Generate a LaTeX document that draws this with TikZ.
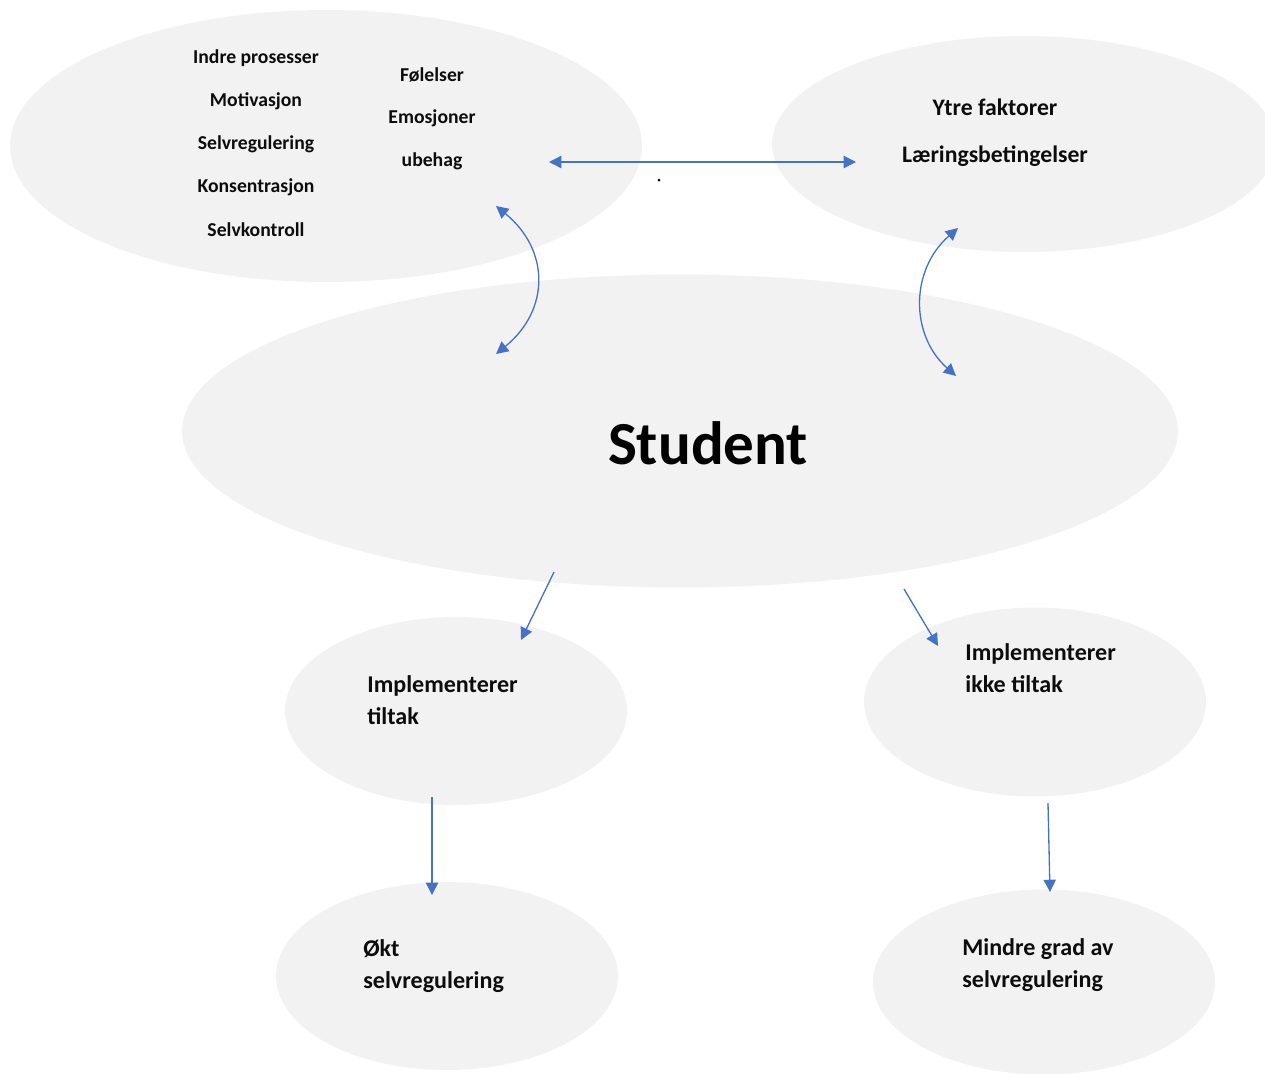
\documentclass[tikz,border=0pt]{standalone}
\usepackage{fontspec}
\setmainfont{Carlito}
\usetikzlibrary{positioning,arrows.meta,shapes.geometric}
\definecolor{blob}{HTML}{F2F2F2}
\definecolor{link}{HTML}{4472C4}
\definecolor{ink}{HTML}{0D0D0D}
\tikzset{
  oval/.style 2 args={ellipse, fill=blob, inner sep=0pt, minimum width=#1, minimum height=#2},
  oneway/.style={-{Triangle[length=7pt,width=7pt]}, line width=0.75pt, color=link},
  twoway/.style={{Triangle[length=7pt,width=7pt]}-{Triangle[length=7pt,width=7pt]}, line width=0.75pt, color=link},
  item/.style={font=\bfseries\fontsize{11.2}{13}\selectfont, text=ink, inner sep=0pt},
  head/.style={font=\bfseries\fontsize{13.5}{16}\selectfont, text=ink, inner sep=0pt},
  step2/.style={font=\bfseries\fontsize{13.7}{18}\selectfont, text=ink, inner sep=0pt, align=left, anchor=west},
  big/.style={font=\bfseries\fontsize{34.8}{38}\selectfont, text=black, inner sep=0pt},
  dot/.style={circle, fill=black, inner sep=0pt, minimum size=0.06cm},
}

\begin{document}
\begin{tikzpicture}[x=0.02cm,y=-0.02cm]
  \useasboundingbox (0,0) rectangle (1265,1073);
  \clip (0,0) rectangle (1265,1073);
  % the ovals
  \node[oval={12.64cm}{5.44cm}] (inner) at (326,146) {};
  \node[oval={10.08cm}{4.32cm}] (outer) at (1024,144) {};
  \node[oval={19.92cm}{6.26cm}] (student) at (680,431) {};
  \node[oval={6.84cm}{3.76cm}] (does) at (456,711) {};
  \node[oval={6.84cm}{3.78cm}] (doesnt) at (1035,702) {};
  \node[oval={6.84cm}{3.76cm}] (more) at (447,976) {};
  \node[oval={6.84cm}{3.70cm}] (less) at (1044,982) {};
  % inner processes and feelings
  \foreach \t [count=\i] in {Indre prosesser,Motivasjon,Selvregulering,Konsentrasjon,Selvkontroll}
    \node[item] (in\i) at (256,15+43*\i) {\t};
  \foreach \t [count=\i] in {Følelser,Emosjoner,ubehag}
    \node[item] (em\i) at (432,32+43*\i) {\t};
  % outer factors
  \node[head] (ytre) at (995,107) {Ytre faktorer};
  \node[head] (betingelser) at (995,156) {Læringsbetingelser};
  \node[big] (studtxt) at (708,443) {Student};
  % outcomes
  \node[step2] (dotxt) at (367,700) {Implementerer\\tiltak};
  \node[step2] (dontxt) at (965,668) {Implementerer\\ikke tiltak};
  \node[step2] (moretxt) at (363,966) {Økt\\selvregulering};
  \node[step2] (lesstxt) at (962,965) {Mindre grad av\\selvregulering};
  \node[dot] (mark) at (659,180) {};
  % connectors
  \coordinate (h1) at (549,162);
  \coordinate (h2) at (856,162);
  \coordinate (l1) at (496,206);
  \coordinate (l2) at (496,354);
  \coordinate (r1) at (958,228);
  \coordinate (r2) at (956,376);
  \coordinate (a1) at (554,572);
  \coordinate (a2) at (521,640);
  \coordinate (b1) at (904,589);
  \coordinate (b2) at (938,646);
  \coordinate (c1) at (432,797);
  \coordinate (c2) at (432,895);
  \coordinate (d1) at (1048,803);
  \coordinate (d2) at (1050,892);
  \draw[twoway] (h1) -- (h2);
  \draw[twoway] (l1) .. controls +(54,44) and +(54,-44) .. (l2);
  \draw[twoway] (r1) .. controls +(-48,42) and +(-46,-41) .. (r2);
  \draw[oneway] (a1) -- (a2);
  \draw[oneway] (b1) -- (b2);
  \draw[oneway] (c1) -- (c2);
  \draw[oneway] (d1) -- (d2);
\end{tikzpicture}
\end{document}
